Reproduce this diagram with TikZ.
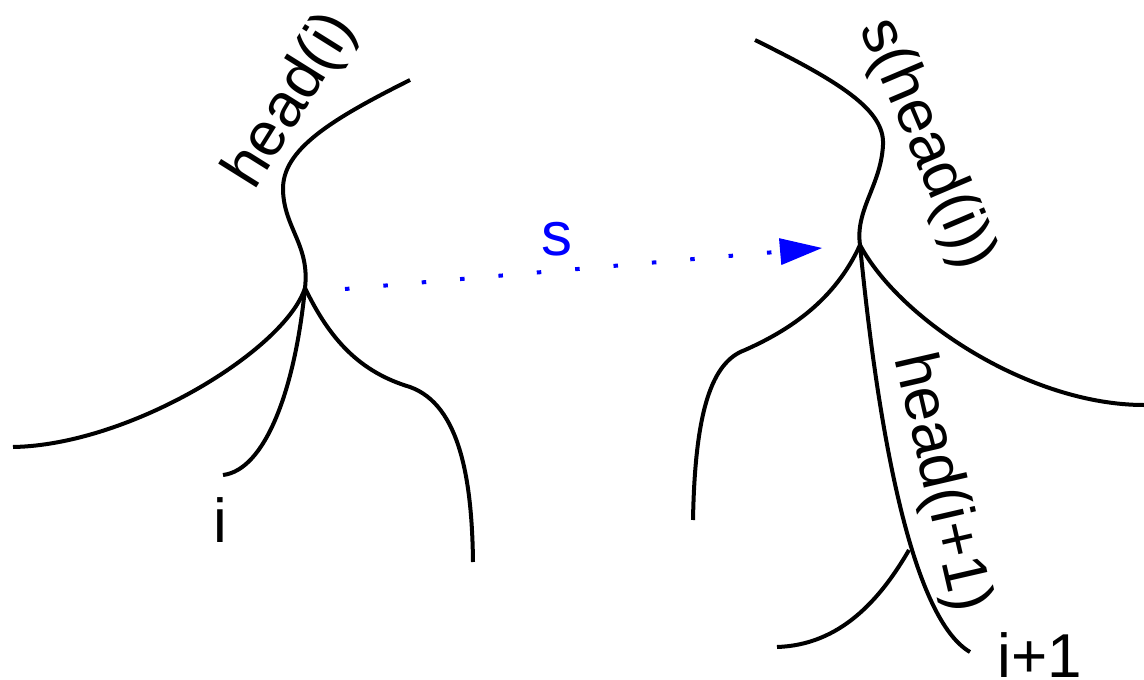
\documentclass[tikz,border=0pt]{standalone}
\usepackage{fontspec}
\setmainfont{Liberation Sans}
\usetikzlibrary{arrows.meta}
\definecolor{sblue}{RGB}{0,0,255}
\begin{document}
\begin{tikzpicture}[x=1pt,y=-1pt,
  branch/.style={line width=4pt, line join=round},
  lab/.style={font=\fontsize{62}{70}\selectfont, inner sep=0pt},
  smap/.style={draw=sblue, line width=4pt, dash pattern=on 4.5pt off 34pt,
    -{Triangle[length=42pt,width=27pt,line width=0pt]}},
]
\useasboundingbox (0,0) rectangle (1144,680);
% junctions
\coordinate (J1) at (305,288);
\coordinate (J2) at (860,245);
\coordinate (K2) at (909,550);
% left tree
\draw[branch] (410,80) .. controls (330,120) and (282,150) .. (283,190)
  .. controls (284,228) and (310,245) .. (J1);
\draw[branch] (J1) .. controls (285,350) and (130,445) .. (13,447);
\draw[branch] (J1) .. controls (295,390) and (265,470) .. (223,475);
\draw[branch] (J1) .. controls (330,340) and (360,372) .. (410,387)
  .. controls (460,405) and (472,480) .. (473,562);
% right tree
\draw[branch] (755,40) .. controls (840,82) and (885,110) .. (883,145)
  .. controls (881,185) and (855,210) .. (J2);
\draw[branch] (J2) .. controls (835,300) and (790,330) .. (745,350)
  .. controls (712,362) and (695,410) .. (693,520);
\draw[branch] (J2) .. controls (900,320) and (1030,405) .. (1144,405);
\draw[branch] (J2) .. controls (880,450) and (915,620) .. (970,652);
\draw[branch] (K2) .. controls (880,600) and (840,645) .. (777,647);
% labels
\node[lab, rotate=58] (hi) at (292,101) {head(i)};
\node[lab, anchor=base] (li) at (220,542) {i};
\node[lab, rotate=-67] (shi) at (926,144) {s(head(i))};
\node[lab, rotate=-77] (hi1) at (940,483) {head(i+1)};
\node[lab, anchor=base] (li1) at (1040,677) {i+1};
% map s
\coordinate (sfrom) at (345,289);
\coordinate (sto) at (822,248);
\draw[smap] (sfrom) -- (sto);
\node[lab, text=sblue, anchor=base] (s) at (557,255) {s};
\end{tikzpicture}
\end{document}
